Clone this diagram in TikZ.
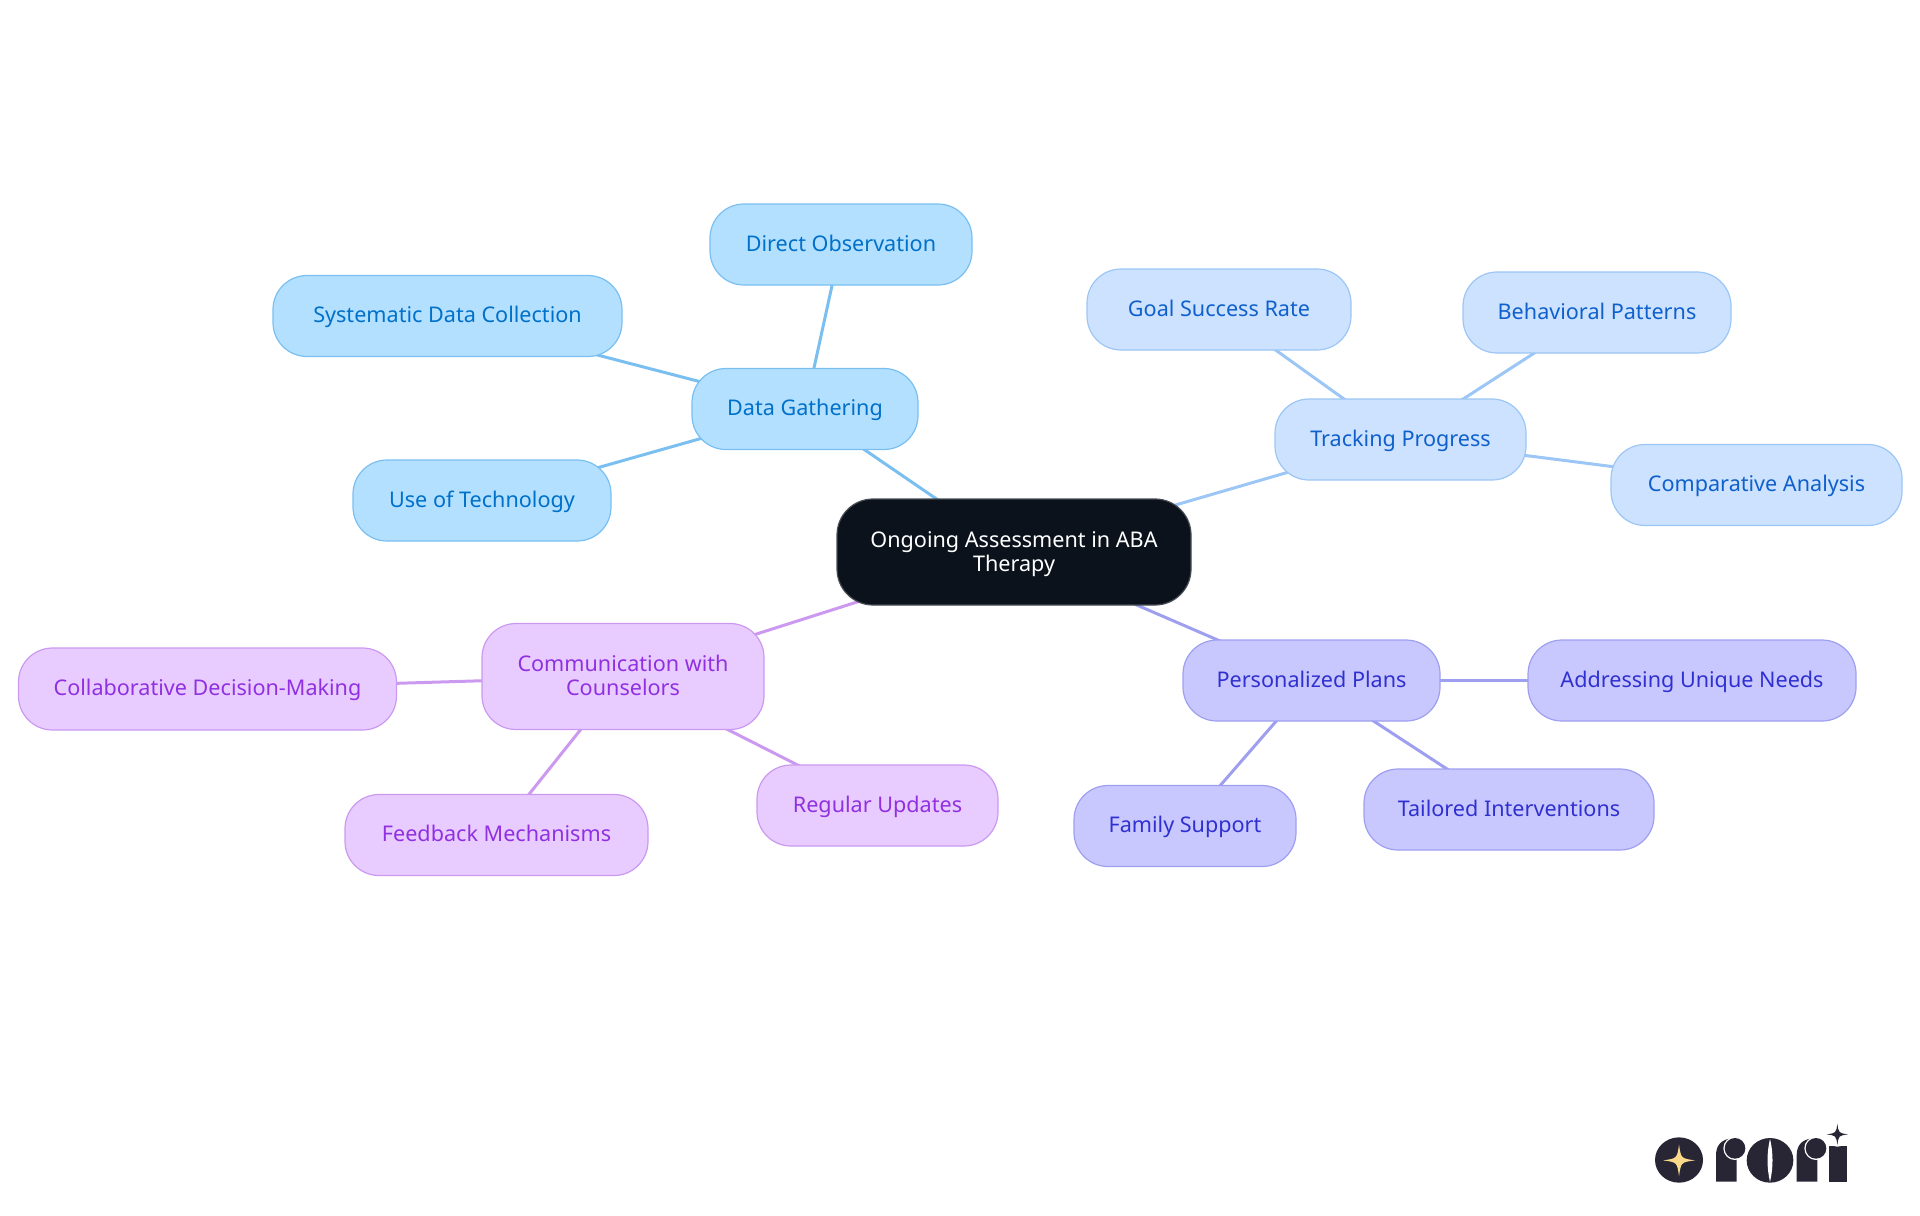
\documentclass[tikz,border=0pt]{standalone}
\usepackage{fontspec}
\setmainfont{Noto Sans}
\usetikzlibrary{backgrounds}
\definecolor{rootfill}{HTML}{0B121B}
\definecolor{bluefill}{HTML}{B3E0FF}\definecolor{bluetext}{HTML}{0070C9}\definecolor{blueline}{HTML}{7ABFF0}
\definecolor{skyfill}{HTML}{CCE2FF}\definecolor{skytext}{HTML}{1060CC}\definecolor{skyline}{HTML}{9CC6F5}
\definecolor{violetfill}{HTML}{C8C8FF}\definecolor{violettext}{HTML}{3030D0}\definecolor{violetline}{HTML}{9F9FF0}
\definecolor{purplefill}{HTML}{E8CCFF}\definecolor{purpletext}{HTML}{9030E0}\definecolor{purpleline}{HTML}{CC99F0}
\definecolor{logodark}{HTML}{282635}\definecolor{logostar}{HTML}{FBD98B}
\newcommand{\lowerfirst}{\rule{0pt}{10.9pt}}
\tikzset{
  box/.style={rectangle,rounded corners=17pt,inner sep=0pt,align=center,line width=0.6pt,font=\fontsize{10.8}{12}\selectfont,execute at begin node=\rule{0pt}{10.4pt},execute at end node=\strut},
  rootbox/.style={box,rounded corners=18pt,fill=rootfill,draw=rootfill!75!white,text=white},
  bluebox/.style={box,fill=bluefill,draw=blueline,text=bluetext},
  skybox/.style={box,fill=skyfill,draw=skyline,text=skytext},
  violetbox/.style={box,fill=violetfill,draw=violetline,text=violettext},
  purplebox/.style={box,fill=purplefill,draw=purpleline,text=purpletext},
  link/.style={line width=1.5pt}
}
\newcommand{\fourstar}[5]{\fill[#5] (#1,#2-#4) .. controls (#1+#3*0.12,#2-#4*0.12) .. (#1+#3,#2) .. controls (#1+#3*0.12,#2+#4*0.12) .. (#1,#2+#4) .. controls (#1-#3*0.12,#2+#4*0.12) .. (#1-#3,#2) .. controls (#1-#3*0.12,#2-#4*0.12) .. cycle;}
\begin{document}
\begin{tikzpicture}[x=0.5pt,y=-0.5pt]
\useasboundingbox (0,0) rectangle (1920,1215);
\node[rootbox,minimum width=177pt,minimum height=53pt] (root) at (1014,552) {\lowerfirst Ongoing Assessment in ABA\\Therapy};
\node[bluebox,minimum width=113pt,minimum height=40.5pt] (data) at (805,409) {Data Gathering};
\node[bluebox,minimum width=131pt,minimum height=40.5pt] (direct) at (841,244.5) {Direct Observation};
\node[bluebox,minimum width=174.5pt,minimum height=40.5pt] (system) at (447.5,316) {Systematic Data Collection};
\node[bluebox,minimum width=129pt,minimum height=40.5pt] (tech) at (482,500.5) {Use of Technology};
\node[skybox,minimum width=125.5pt,minimum height=40.5pt] (track) at (1400.5,439.5) {Tracking Progress};
\node[skybox,minimum width=132pt,minimum height=40.5pt] (goal) at (1219,309.5) {Goal Success Rate};
\node[skybox,minimum width=134pt,minimum height=40.5pt] (behav) at (1597,312.5) {Behavioral Patterns};
\node[skybox,minimum width=145.5pt,minimum height=40.5pt] (comp) at (1756.5,485) {Comparative Analysis};
\node[violetbox,minimum width=128.5pt,minimum height=40.5pt] (plans) at (1311.5,680.5) {Personalized Plans};
\node[violetbox,minimum width=164pt,minimum height=40.5pt] (needs) at (1692,680.5) {Addressing Unique Needs};
\node[violetbox,minimum width=111pt,minimum height=40.5pt] (family) at (1185,826) {Family Support};
\node[violetbox,minimum width=145pt,minimum height=40.5pt] (tailored) at (1509,809.5) {Tailored Interventions};
\node[purplebox,minimum width=141pt,minimum height=53pt] (comm) at (623,676.5) {\lowerfirst Communication with\\Counselors};
\node[purplebox,minimum width=189pt,minimum height=41pt] (collab) at (207.5,689) {Collaborative Decision-Making};
\node[purplebox,minimum width=151.5pt,minimum height=40.5pt] (feedback) at (496.5,835) {Feedback Mechanisms};
\node[purplebox,minimum width=120.5pt,minimum height=40.5pt] (regular) at (877.5,805.5) {Regular Updates};
\begin{scope}[on background layer]
\draw[link,blueline] (root.center) -- (data.center);
\draw[link,blueline] (data.center) -- (direct.center);
\draw[link,blueline] (data.center) -- (system.center);
\draw[link,blueline] (data.center) -- (tech.center);
\draw[link,skyline] (root.center) -- (track.center);
\draw[link,skyline] (track.center) -- (goal.center);
\draw[link,skyline] (track.center) -- (behav.center);
\draw[link,skyline] (track.center) -- (comp.center);
\draw[link,violetline] (root.center) -- (plans.center);
\draw[link,violetline] (plans.center) -- (needs.center);
\draw[link,violetline] (plans.center) -- (family.center);
\draw[link,violetline] (plans.center) -- (tailored.center);
\draw[link,purpleline] (root.center) -- (comm.center);
\draw[link,purpleline] (comm.center) -- (collab.center);
\draw[link,purpleline] (comm.center) -- (feedback.center);
\draw[link,purpleline] (comm.center) -- (regular.center);
\end{scope}
% logo, drawn in units of a third of a pixel
\begin{scope}[shift={(1600,1090)},x=0.16667pt,y=-0.16667pt]
\fill[logodark] (237,210) circle[x radius=72,y radius=68];
\fourstar{237}{211}{48}{48}{logostar}
% first r
\fill[logodark] (348,275) -- (348,195) .. controls (348,165) and (365,148) .. (395,145) -- (410,145) -- (410,275) -- cycle;
\fill[white] (405,175) circle[radius=35];
\fill[logodark] (405,175) circle[radius=31];
% o
\fill[logodark] (510,211) circle[x radius=70,y radius=67];
\fill[white] (510,146) .. controls (500,190) and (500,232) .. (510,276) .. controls (520,232) and (520,190) .. cycle;
% second r
\fill[logodark] (590,275) -- (590,195) .. controls (590,165) and (607,148) .. (637,145) -- (652,145) -- (652,275) -- cycle;
\fill[white] (648,175) circle[radius=35];
\fill[logodark] (648,175) circle[radius=31];
% i
\fill[logodark] (686,275) -- (686,168) -- (740,168) -- (740,275) -- cycle;
\fill[white] (712,133) circle[radius=37];
\fourstar{712}{133}{32}{32}{logodark}
\end{scope}
\end{tikzpicture}
\end{document}
